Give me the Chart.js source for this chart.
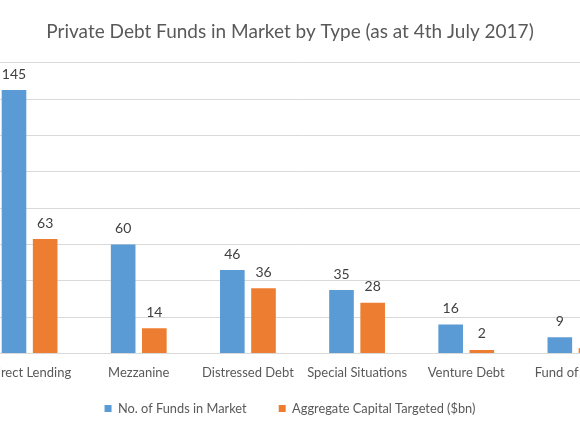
<!DOCTYPE html>
<html>
<head>
<meta charset="utf-8">
<script src="https://cdn.jsdelivr.net/npm/chart.js@4.4.0/dist/chart.umd.min.js"></script>
<style>
  html, body { margin: 0; padding: 0; overflow: hidden; background: #fff; }
  body { width: 580px; height: 435px; position: relative; }
  /* the chart is wider than the window: it is cut on both sides */
  #wrap { position: absolute; left: -100px; top: 0; width: 785px; height: 435px; }
</style>
</head>
<body>
<div id="wrap"><canvas id="myChart"></canvas></div>
<script>
// Data
const categories = ['Direct Lending', 'Mezzanine', 'Distressed Debt', 'Special Situations', 'Venture Debt', 'Fund of Funds'];
const fundsInMarket = [145, 60, 46, 35, 16, 9];
const capitalTargeted = [63, 14, 36, 28, 2, 3];
const yTicks = [0, 20, 40, 60, 80, 100, 120, 140, 160];

const textFont = 'Lato, "Liberation Sans", sans-serif';

// Hodnoty nad sloupci
const barLabels = {
  id: 'barLabels',
  afterDatasetsDraw(chart) {
    const ctx = chart.ctx;
    ctx.save();
    ctx.font = '14px ' + textFont;
    ctx.fillStyle = '#404040';
    ctx.textAlign = 'center';
    ctx.textBaseline = 'middle';
    chart.data.datasets.forEach((ds, i) => {
      chart.getDatasetMeta(i).data.forEach((bar, j) => {
        ctx.fillText(ds.data[j], bar.x, bar.y - 16);
      });
    });
    ctx.restore();
  }
};

document.addEventListener("DOMContentLoaded", function () {
  const ctx = document.getElementById('myChart').getContext('2d');
  new Chart(ctx, {
    type: 'bar',
    data: {
      labels: categories,
      datasets: [{
        label: 'No. of Funds in Market',
        data: fundsInMarket,
        backgroundColor: '#5B9BD5'
      }, {
        label: 'Aggregate Capital Targeted ($bn)',
        data: capitalTargeted,
        backgroundColor: '#ED7D31'
      }]
    },
    options: {
      responsive: true,
      maintainAspectRatio: false,
      animation: false,
      datasets: {
        bar: { categoryPercentage: 0.571, barPercentage: 0.79 }
      },
      layout: { padding: { left: 50, right: 55, top: 0, bottom: 10 } },
      plugins: {
        title: {
          display: true,
          text: 'Private Debt Funds in Market by Type (as at 4th July 2017)',
          color: '#595959',
          font: { family: textFont, size: 19, weight: 'normal' },
          padding: { top: 20, bottom: 20 }
        },
        legend: {
          position: 'bottom',
          labels: {
            color: '#595959',
            font: { family: textFont, size: 12.8 },
            boxWidth: 7,
            boxHeight: 7,
            padding: 19,
            // vetsi mezera mezi polozkami legendy
            generateLabels: chart => Chart.defaults.plugins.legend.labels.generateLabels(chart)
              .map((item, i) => (i === 0 ? { ...item, text: item.text + '    ' } : item))
          }
        },
        tooltip: { enabled: false }
      },
      scales: {
        x: {
          grid: { display: false },
          border: { color: '#D9D9D9' },
          ticks: {
            color: '#595959',
            font: { family: textFont, size: 13 },
            padding: 3,
            maxRotation: 0,
            autoSkip: false
          }
        },
        y: {
          min: 0,
          max: 160,
          afterBuildTicks: scale => { scale.ticks = yTicks.map(v => ({ value: v })); },
          afterFit: scale => { scale.width = 25; },
          grid: { color: '#D9D9D9', drawTicks: false },
          border: { display: false },
          ticks: { display: false }
        }
      }
    },
    plugins: [barLabels]
  });
});
</script>
</body>
</html>
